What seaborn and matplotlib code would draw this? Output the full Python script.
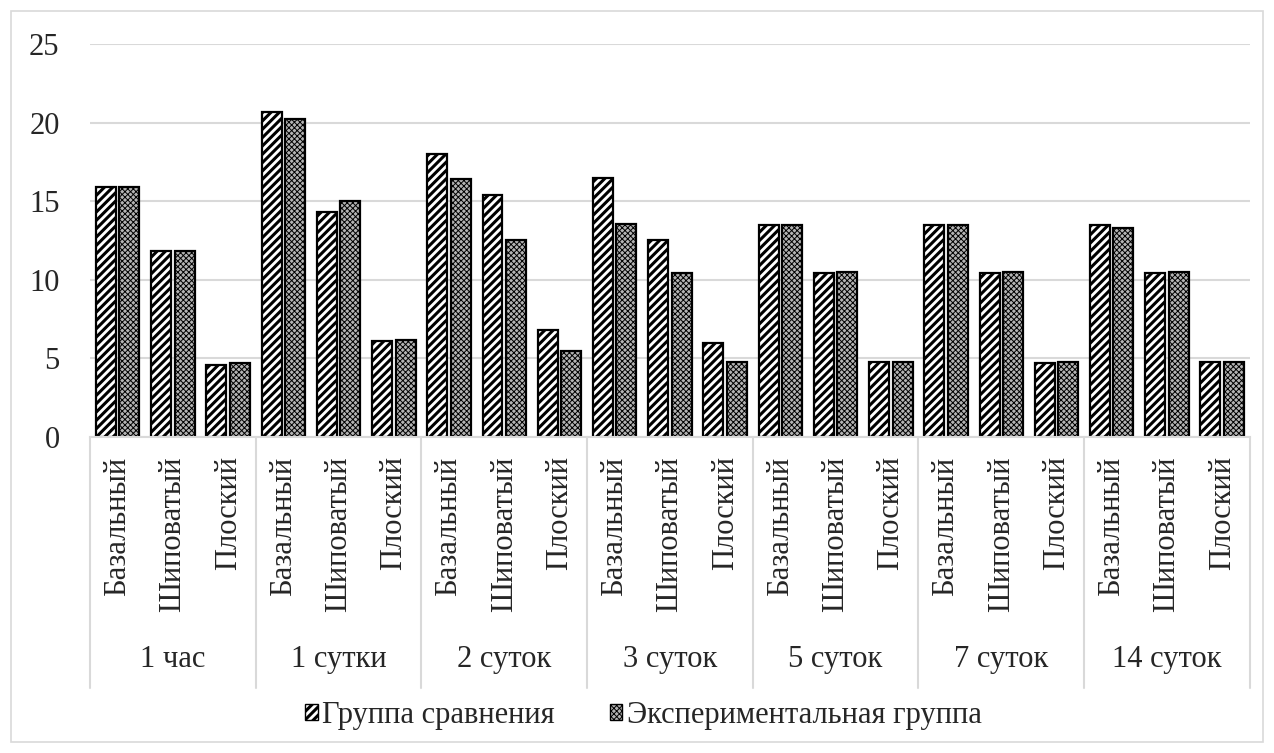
import matplotlib
matplotlib.use("Agg")
import matplotlib.pyplot as plt
import seaborn as sns
import pandas as pd
from matplotlib.patches import Rectangle, Patch

groups = ["1 час", "1 сутки", "2 суток", "3 суток", "5 суток", "7 суток", "14 суток"]
layers = ["Базальный", "Шиповатый", "Плоский"]
series = ["Группа сравнения", "Экспериментальная группа"]
comparison = [15.9, 11.85, 4.6,
              20.7, 14.3, 6.1,
              18.0, 15.4, 6.8,
              16.5, 12.5, 5.95,
              13.5, 10.4, 4.8,
              13.5, 10.4, 4.7,
              13.5, 10.4, 4.8]
experimental = [15.9, 11.85, 4.7,
                20.25, 15.0, 6.2,
                16.4, 12.5, 5.5,
                13.55, 10.45, 4.75,
                13.5, 10.5, 4.8,
                13.5, 10.5, 4.8,
                13.3, 10.5, 4.8]

sns.set_theme(style="white")
plt.rcParams["font.family"] = ["Liberation Serif", "DejaVu Serif"]
plt.rcParams["hatch.linewidth"] = 2.2
plt.rcParams["hatch.color"] = "black"

n = len(groups) * len(layers)
rows = []
for i in range(n):
    rows.append({"pos": i, "series": series[0], "value": comparison[i]})
    rows.append({"pos": i, "series": series[1], "value": experimental[i]})
df = pd.DataFrame(rows)

FS = 22

fig = plt.figure(figsize=(12.74, 7.53), dpi=100)
ax = fig.add_axes([0.0707, 0.4197, 0.9103, 0.5219])

sns.barplot(data=df, x="pos", y="value", hue="series", hue_order=series,
            order=list(range(n)), palette=["white", "#b4b4b4"], width=0.85, gap=0.15,
            edgecolor="black", linewidth=1.6, ax=ax, legend=False, saturation=1)

hatches = ["////", "xxxxxx"]
for cont, h in zip(ax.containers, hatches):
    for bar in cont:
        bar.set_hatch(h)
for bar in ax.containers[1]:
    bar._hatch_linewidth = 0.7

ax.set_ylim(0, 25)
ax.set_yticks([0, 5, 10, 15, 20, 25])
ax.tick_params(axis="y", labelsize=FS, length=0, pad=22)
ax.yaxis.grid(True, color="#d9d9d9", linewidth=1.5)
ax.set_axisbelow(True)
for s in ["top", "right", "left"]:
    ax.spines[s].set_visible(False)
ax.spines["bottom"].set_color("#d9d9d9")
ax.spines["bottom"].set_linewidth(1.5)
ax.set_xlim(-0.5, n - 0.5)
ax.set_xlabel("")
ax.set_ylabel("")
ax.set_xticks(range(n))
ax.set_xticklabels([layers[i % 3] for i in range(n)], rotation=90, fontsize=FS, va="top")
ax.tick_params(axis="x", length=0, pad=14)

trans = ax.get_xaxis_transform()
for g in range(len(groups) + 1):
    xb = g * 3 - 0.5
    ax.plot([xb, xb], [0, -0.64], transform=trans, color="#d9d9d9", lw=1.5, clip_on=False)
for g, name in enumerate(groups):
    ax.text(g * 3 + 1, -0.565, name, transform=trans, ha="center", va="center", fontsize=FS)

handles = [Patch(facecolor="white", edgecolor="black", hatch=hatches[0], label=series[0]),
           Patch(facecolor="#b4b4b4", edgecolor="black", hatch=hatches[1], label=series[1])]
leg = fig.legend(handles=handles, loc="center", bbox_to_anchor=(0.505, 0.05), ncol=2, frameon=False,
                 fontsize=FS, handlelength=0.4, handleheight=0.4, handletextpad=0.15,
                 columnspacing=1.8)
leg.legend_handles[1]._hatch_linewidth = 0.7

fig.patches.append(Rectangle((0.009, 0.015), 0.982, 0.97, transform=fig.transFigure,
                             fill=False, edgecolor="#d9d9d9", lw=1.2))

fig.savefig("out.png", dpi=100)
